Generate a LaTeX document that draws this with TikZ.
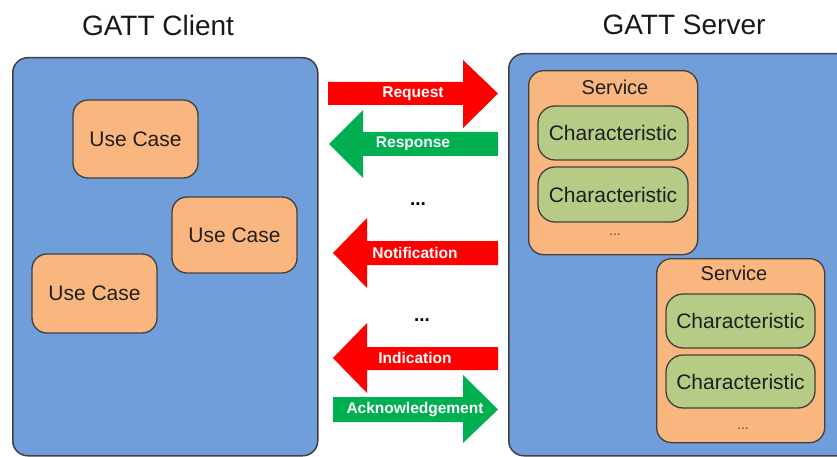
\documentclass[tikz,border=0pt]{standalone}
\usepackage{fontspec}
\setmainfont{Liberation Sans}
\definecolor{boxblue}{HTML}{6F9EDA}
\definecolor{svcorange}{HTML}{F9B77F}
\definecolor{chargreen}{HTML}{B6CC86}
\definecolor{edgegray}{HTML}{404040}
\definecolor{arrred}{HTML}{FF0000}
\definecolor{arrgreen}{HTML}{00B050}
\begin{document}
\begin{tikzpicture}[x=1pt,y=-1pt,
  panel/.style={draw=edgegray, line width=1.5pt, fill=boxblue, rounded corners=15pt, anchor=north west, inner sep=0pt},
  ucase/.style={draw=edgegray, line width=1.3pt, fill=svcorange, rounded corners=15pt, inner sep=0pt,
     font=\fontsize{21}{24}\selectfont, text=black!88},
  svcbox/.style={draw=edgegray, line width=1.3pt, fill=svcorange, rounded corners=15pt, anchor=north west, inner sep=0pt},
  svclabel/.style={font=\fontsize{20}{23}\selectfont, text=black!88, inner sep=0pt},
  charbox/.style={draw=edgegray, line width=1.3pt, fill=chargreen, rounded corners=17pt, inner sep=0pt,
     font=\fontsize{21}{24}\selectfont, text=black!88},
  title/.style={font=\fontsize{28}{32}\selectfont, text=black!90, inner sep=0pt},
  arrlabel/.style={font=\bfseries\fontsize{15.5}{18}\selectfont, text=white, inner sep=0pt},
  dotlabel/.style={font=\bfseries\fontsize{19}{20}\selectfont, inner sep=0pt, anchor=base},
  smalldots/.style={font=\fontsize{14}{16}\selectfont, text=black!70, inner sep=0pt, anchor=base}
]
\useasboundingbox (0,0) rectangle (837,457);
\clip (0,0) rectangle (837,457);
\fill[white] (0,0) rectangle (837,457);

% titles
\node[title] (ctitle) at (158,25) {GATT Client};
\node[title] (stitle) at (684,25) {GATT Server};

% panels
\node[panel, minimum width=305pt, minimum height=398pt] (client) at (12,57) {};
\node[panel, minimum width=362pt, minimum height=402pt] (server) at (508,53) {};

% use cases
\node[ucase, minimum width=125pt, minimum height=78pt] (uc1) at (135.5,139) {Use Case};
\node[ucase, minimum width=125pt, minimum height=76pt] (uc2) at (234.5,235) {Use Case};
\node[ucase, minimum width=125pt, minimum height=79pt] (uc3) at (94.5,293.5) {Use Case};

% service 1
\node[svcbox, minimum width=169pt, minimum height=184pt] (svc1) at (528,70) {};
\node[svclabel] (svc1lbl) at (615,87) {Service};
\node[charbox, minimum width=150pt, minimum height=54pt] (ch1) at (613,133) {Characteristic};
\node[charbox, minimum width=150pt, minimum height=55pt] (ch2) at (613,194.5) {Characteristic};
\node[smalldots] (svc1dots) at (615,235) {...};

% service 2
\node[svcbox, minimum width=168pt, minimum height=184pt] (svc2) at (656,258) {};
\node[svclabel] (svc2lbl) at (734,273) {Service};
\node[charbox, minimum width=149pt, minimum height=54pt] (ch3) at (740.5,321) {Characteristic};
\node[charbox, minimum width=149pt, minimum height=53pt] (ch4) at (740.5,381.5) {Characteristic};
\node[smalldots] (svc2dots) at (743,429) {...};

% arrows
\fill[arrred] (328,82) -- (463,82) -- (463,60) -- (498,93.5) -- (463,128) -- (463,105) -- (328,105) -- cycle;
\node[arrlabel] (lreq) at (413,93.5) {Request};

\fill[arrgreen] (329,144) -- (363,110) -- (363,132) -- (498,132) -- (498,156) -- (363,156) -- (363,178) -- cycle;
\node[arrlabel] (lresp) at (413,144) {Response};

\node[dotlabel] (dots1) at (418,205) {...};

\fill[arrred] (333,253) -- (367,218) -- (367,241) -- (498,241) -- (498,265) -- (367,265) -- (367,288) -- cycle;
\node[arrlabel] (lnotif) at (415,253) {Notification};

\node[dotlabel] (dots2) at (422,321) {...};

\fill[arrred] (333,358) -- (367,323) -- (367,347) -- (498,347) -- (498,370) -- (367,370) -- (367,393) -- cycle;
\node[arrlabel] (lind) at (415,358) {Indication};

\fill[arrgreen] (333,397) -- (463,397) -- (463,375) -- (498,409.5) -- (463,443) -- (463,422) -- (333,422) -- cycle;
\node[arrlabel] (lack) at (415,409.5) {Acknowledgement};
\end{tikzpicture}
\end{document}
